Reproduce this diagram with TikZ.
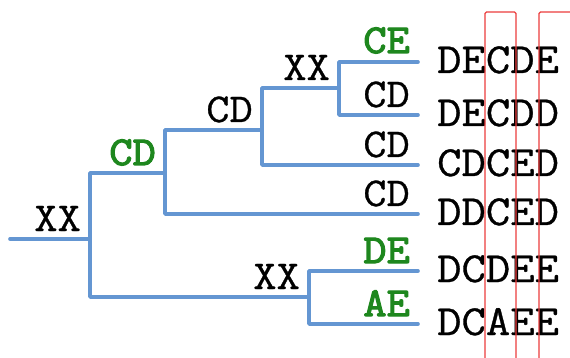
\documentclass[tikz,border=0pt]{standalone}
\usepackage{fontspec}
\setmainfont{Latin Modern Mono}[FakeStretch=1.1,UprightFeatures={FakeBold=0.8},AutoFakeBold=3]
\usetikzlibrary{calc}
\definecolor{branch}{RGB}{100,150,210}
\definecolor{mygreen}{RGB}{30,135,30}
\definecolor{boxred}{RGB}{235,60,60}

\begin{document}
\begin{tikzpicture}[x=1pt,y=-1pt,line cap=round,line join=round]
  \tikzstyle{edge}=[draw=branch,line width=3.6pt]
  \tikzstyle{lbl}=[inner sep=0pt,anchor=base east,font=\fontsize{41}{41}\selectfont]
  \tikzstyle{glbl}=[lbl,text=mygreen,font=\fontsize{41}{41}\selectfont\bfseries]
  \tikzstyle{seq}=[inner sep=0pt,anchor=base west,font=\fontsize{43}{43}\selectfont]

  \useasboundingbox (0,0) rectangle (570,358);

  % tree nodes
  \coordinate (stem) at (10,239);
  \coordinate (root) at (90,239);
  \coordinate (n1) at (165,173);
  \coordinate (n2) at (262,130);
  \coordinate (n3) at (339,88);
  \coordinate (n4) at (309,297);
  % leaves
  \coordinate (l1) at (418,62);
  \coordinate (l2) at (418,115);
  \coordinate (l3) at (418,165);
  \coordinate (l4) at (418,214);
  \coordinate (l5) at (418,271);
  \coordinate (l6) at (418,324);

  % branches
  \path[edge] (stem) -- (root);
  \path[edge] (root) |- (n1);
  \path[edge] (root) |- (n4);
  \path[edge] (n1) |- (n2);
  \path[edge] (n1) |- (l4);
  \path[edge] (n2) |- (n3);
  \path[edge] (n2) |- (l3);
  \path[edge] (n3) |- (l1);
  \path[edge] (n3) |- (l2);
  \path[edge] (n4) |- (l5);
  \path[edge] (n4) |- (l6);

  % labels on branches
  \node[lbl]  (troot) at ([xshift=-9pt,yshift=8pt]root) {XX};
  \node[glbl] (tn1) at ([xshift=-9pt,yshift=8pt]n1) {CD};
  \node[lbl]  (tn2) at ([xshift=-9pt,yshift=8pt]n2) {CD};
  \node[lbl]  (tn3) at ([xshift=-9pt,yshift=8pt]n3) {XX};
  \node[lbl]  (tn4) at ([xshift=-9pt,yshift=8pt]n4) {XX};
  \node[glbl] (tl1) at ([xshift=-8pt,yshift=9pt]l1) {CE};
  \node[lbl]  (tl2) at ([xshift=-8pt,yshift=8pt]l2) {CD};
  \node[lbl]  (tl3) at ([xshift=-8pt,yshift=8pt]l3) {CD};
  \node[lbl]  (tl4) at ([xshift=-8pt,yshift=8pt]l4) {CD};
  \node[glbl] (tl5) at ([xshift=-8pt,yshift=8pt]l5) {DE};
  \node[glbl] (tl6) at ([xshift=-8pt,yshift=8pt]l6) {AE};

  % sequences
  \node[seq] (s1) at ([xshift=19pt,yshift=-11pt]l1) {DECDE};
  \node[seq] (s2) at ([xshift=19pt,yshift=-11pt]l2) {DECDD};
  \node[seq] (s3) at ([xshift=19pt,yshift=-11pt]l3) {CDCED};
  \node[seq] (s4) at ([xshift=19pt,yshift=-11pt]l4) {DDCED};
  \node[seq] (s5) at ([xshift=19pt,yshift=-11pt]l5) {DCDEE};
  \node[seq] (s6) at ([xshift=19pt,yshift=-11pt]l6) {DCAEE};

  % highlighted columns
  \begin{scope}
    \clip (0,0) rectangle (570,358);
    \draw[boxred,line width=1.3pt,rounded corners=1.5pt] (485,12) rectangle (516,380);
    \draw[boxred,line width=1.3pt,rounded corners=1.5pt] (539,12) rectangle (600,380);
  \end{scope}
\end{tikzpicture}
\end{document}
